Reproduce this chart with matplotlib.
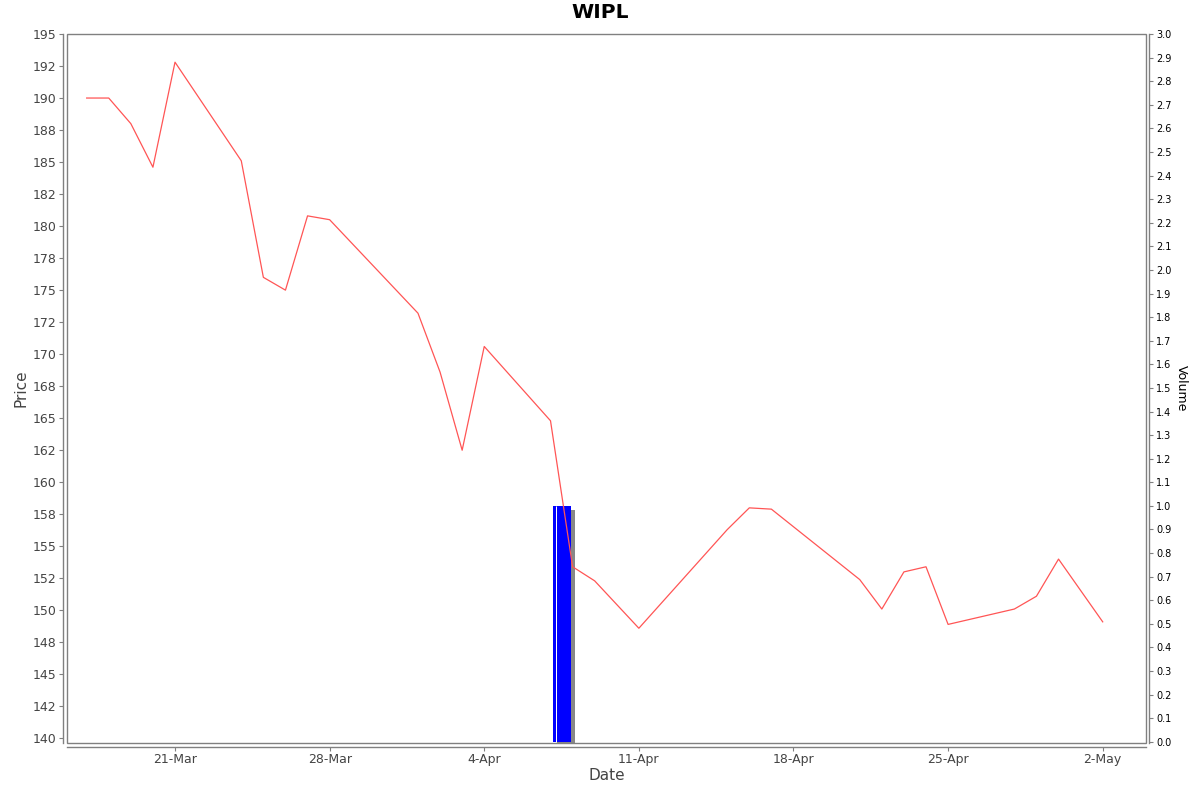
import datetime as dt
import matplotlib
matplotlib.use("Agg")
import matplotlib.pyplot as plt
import matplotlib.dates as mdates
import matplotlib.patheffects as pe
from matplotlib.patches import Rectangle
from matplotlib.ticker import FixedLocator, FuncFormatter

# trading days (2025) and close prices
dates = [
    "2025-03-17", "2025-03-18", "2025-03-19", "2025-03-20", "2025-03-21",
    "2025-03-24", "2025-03-25", "2025-03-26", "2025-03-27", "2025-03-28",
    "2025-04-01", "2025-04-02", "2025-04-03", "2025-04-04",
    "2025-04-07", "2025-04-08", "2025-04-09", "2025-04-11",
    "2025-04-15", "2025-04-16", "2025-04-17",
    "2025-04-21", "2025-04-22", "2025-04-23", "2025-04-24", "2025-04-25",
    "2025-04-28", "2025-04-29", "2025-04-30", "2025-05-02",
]
prices = [
    190.0, 190.0, 188.0, 184.6, 192.8,
    185.1, 176.0, 175.0, 180.8, 180.5,
    173.2, 168.6, 162.5, 170.6,
    164.8, 153.4, 152.3, 148.6,
    156.3, 158.0, 157.9,
    152.4, 150.1, 153.0, 153.4, 148.9,
    150.1, 151.1, 154.0, 149.1,
]
volume_dates = ["2025-04-07"]
volumes = [1.0]
date_ticks = ["2025-03-21", "2025-03-28", "2025-04-04", "2025-04-11",
              "2025-04-18", "2025-04-25", "2025-05-02"]

x = [mdates.date2num(dt.date.fromisoformat(d)) for d in dates]
xv = [mdates.date2num(dt.date.fromisoformat(d)) for d in volume_dates]
xt = [mdates.date2num(dt.date.fromisoformat(d)) for d in date_ticks]

GRAY = "#808080"
TXT = "#444444"
PX = 72 / 100  # one pixel in points

fig = plt.figure(figsize=(12, 7.92), dpi=100)
ax = fig.add_axes([67 / 1200, 1 - 743 / 792, 1079 / 1200, 709 / 792])
axv = ax.twinx()
ax.set_zorder(2)
axv.set_zorder(1)
ax.patch.set_visible(False)

# volume bar with shadow
bars = axv.bar([v + 0.12 for v in xv], volumes, width=0.83, align="edge",
               color="#0000ff", linewidth=0)
for b in bars:
    b.set_path_effects([pe.SimplePatchShadow(offset=(4 * PX, -4 * PX),
                                             shadow_rgbFace="#888888", alpha=1.0),
                        pe.Normal()])
axv.vlines([v + 0.24 for v in xv], 0, volumes, color="white", linewidth=1 * PX)

ax.plot(x, prices, color="#ff5555", linewidth=0.9)

ax.set_xlim(x[0] - 0.89, x[-1] + 1.96)
ax.set_ylim(139.64, 195)
axv.set_ylim(-0.005, 3.0)

# plot outline
ax.add_patch(Rectangle((0, 0), 1, 1, transform=ax.transAxes, fill=False,
                       edgecolor=GRAY, linewidth=1, clip_on=False, zorder=5))

for s in ("top", "right"):
    ax.spines[s].set_visible(False)
for s in ("top", "left", "bottom"):
    axv.spines[s].set_visible(False)
ax.spines["left"].set_position(("outward", 4 * PX))
ax.spines["bottom"].set_position(("outward", 4 * PX))
axv.spines["right"].set_position(("outward", 3 * PX))
for sp in (ax.spines["left"], ax.spines["bottom"], axv.spines["right"]):
    sp.set_color(GRAY)
    sp.set_linewidth(1)

price_ticks = [140 + 2.5 * i for i in range(23)]
ax.yaxis.set_major_locator(FixedLocator(price_ticks))
ax.yaxis.set_major_formatter(FuncFormatter(lambda v, p: f"{v:.0f}"))
ax.xaxis.set_major_locator(FixedLocator(xt))
ax.xaxis.set_major_formatter(FuncFormatter(
    lambda v, p: f"{mdates.num2date(v).day}-{mdates.num2date(v).strftime('%b')}"))
axv.yaxis.set_major_locator(FixedLocator([i / 10 for i in range(31)]))
axv.yaxis.set_major_formatter(FuncFormatter(lambda v, p: f"{v:.1f}"))

ax.tick_params(axis="both", direction="out", length=3, width=0.8, color=GRAY,
               labelcolor=TXT, labelsize=9, pad=2)
ax.tick_params(axis="x", pad=1)
axv.tick_params(axis="y", direction="out", length=3, width=0.8, color=GRAY,
                labelcolor="black", labelsize=7, pad=2)

ax.set_xlabel("Date", fontsize=11, color=TXT, labelpad=2)
ax.set_ylabel("Price", fontsize=11, color=TXT, labelpad=3)
axv.set_ylabel("Volume", fontsize=9, color="black", rotation=270, labelpad=12)
fig.text(0.5, 1 - 13 / 792, "WIPL", ha="center", va="center",
         fontsize=14.5, fontweight="bold")

fig.savefig("out.png", dpi=100)
